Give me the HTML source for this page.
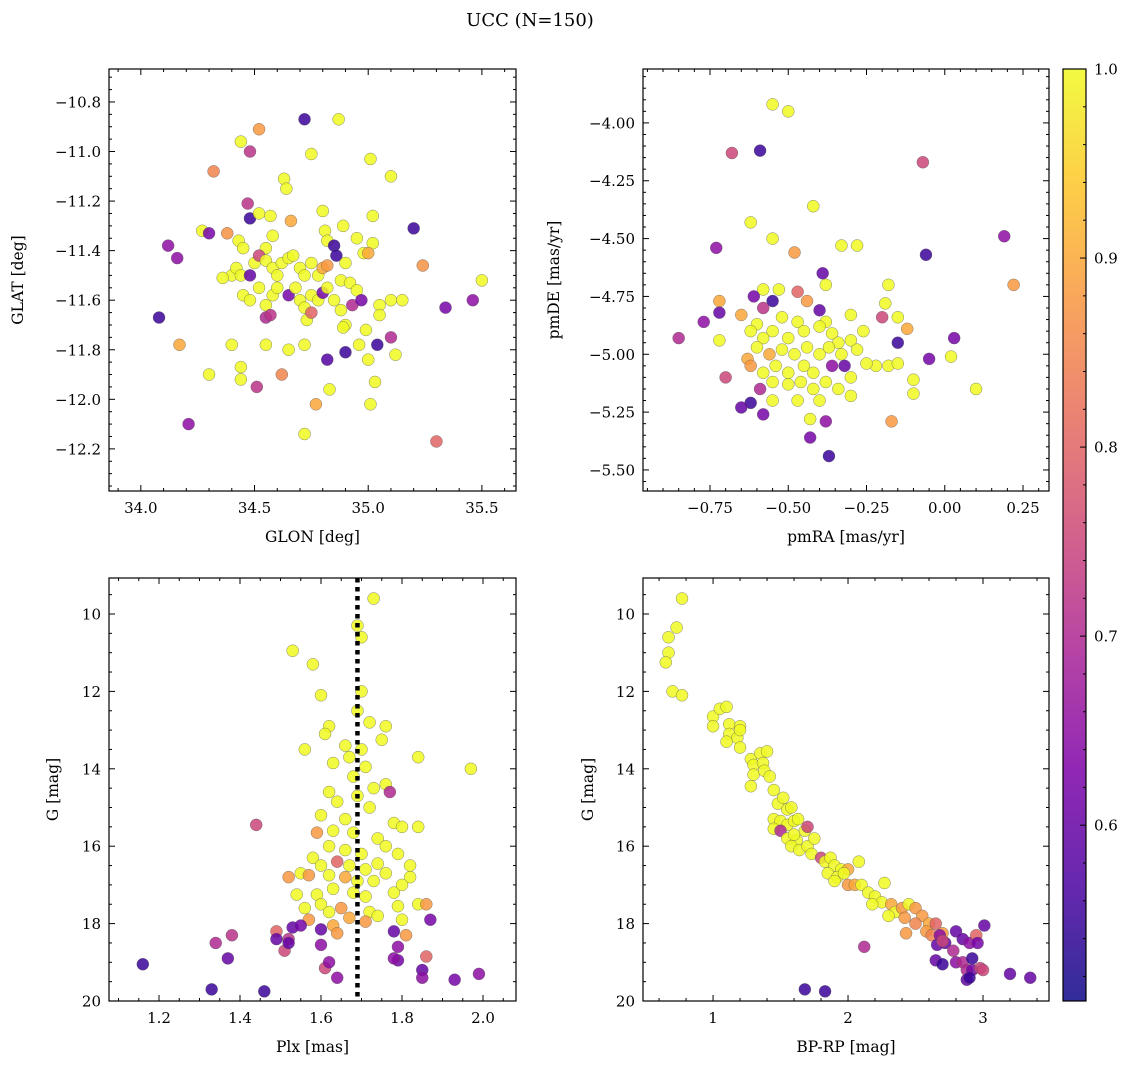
<!DOCTYPE html>
<html><head><meta charset="utf-8"><style>
html,body{margin:0;padding:0;background:#fff;}
svg{display:block;font-family:"DejaVu Serif","Liberation Serif",serif;}
</style></head><body>
<svg id="fig" width="1136" height="1068" viewBox="0 0 1136 1068" xmlns="http://www.w3.org/2000/svg">
<defs><linearGradient id="plasma" x1="0" y1="1" x2="0" y2="0">
<stop offset="0" stop-color="#0d0887"/><stop offset="0.125" stop-color="#4c02a1"/><stop offset="0.25" stop-color="#7e03a8"/><stop offset="0.375" stop-color="#a92395"/><stop offset="0.5" stop-color="#cc4778"/><stop offset="0.625" stop-color="#e66c5c"/><stop offset="0.75" stop-color="#f89540"/><stop offset="0.875" stop-color="#fdc527"/><stop offset="1" stop-color="#f0f921"/></linearGradient></defs>
<text x="530" y="26" font-size="18" text-anchor="middle">UCC (N=150)</text>
</svg>
<script>
const p1Lon=[34.44,34.48,34.52,34.72,34.87,34.32,34.75,35.01,35.1,34.63,34.64,34.47,34.48,34.52,34.57,34.66,34.27,34.30,34.38,34.12,34.16,34.43,34.45,34.58,34.55,34.80,34.81,34.82,34.85,34.89,34.95,35.02,35.02,35.2,35.24,34.08,34.17,34.21,34.3,34.4,34.36,34.42,34.44,34.48,34.5,34.52,34.55,34.58,34.6,34.62,34.65,34.67,34.7,34.72,34.75,34.78,34.8,34.82,34.86,34.9,34.88,34.92,34.95,34.98,35.0,34.45,34.48,34.52,34.55,34.58,34.6,34.65,34.68,34.7,34.72,34.75,34.78,34.8,34.82,34.85,34.88,34.9,34.93,34.97,35.05,35.1,35.15,35.05,34.55,34.57,34.73,34.75,34.89,34.99,35.1,35.12,35.34,35.46,35.5,34.4,34.55,34.65,34.72,34.82,34.9,34.96,35.0,35.04,34.44,34.44,34.62,34.51,34.77,34.83,35.03,35.01,34.72,35.3];
const p1Lat=[-10.96,-11.00,-10.91,-10.87,-10.87,-11.08,-11.01,-11.03,-11.1,-11.11,-11.15,-11.21,-11.27,-11.25,-11.26,-11.28,-11.32,-11.33,-11.33,-11.38,-11.43,-11.36,-11.39,-11.34,-11.39,-11.24,-11.32,-11.36,-11.38,-11.30,-11.35,-11.26,-11.37,-11.31,-11.46,-11.67,-11.78,-12.1,-11.9,-11.5,-11.51,-11.47,-11.5,-11.5,-11.45,-11.42,-11.44,-11.47,-11.5,-11.45,-11.43,-11.42,-11.47,-11.5,-11.45,-11.5,-11.47,-11.46,-11.42,-11.45,-11.52,-11.53,-11.56,-11.41,-11.41,-11.58,-11.6,-11.55,-11.62,-11.58,-11.55,-11.58,-11.55,-11.6,-11.63,-11.58,-11.6,-11.57,-11.55,-11.6,-11.64,-11.7,-11.62,-11.6,-11.62,-11.6,-11.6,-11.66,-11.67,-11.66,-11.68,-11.65,-11.71,-11.72,-11.75,-11.82,-11.63,-11.6,-11.52,-11.78,-11.78,-11.8,-11.78,-11.84,-11.81,-11.78,-11.84,-11.78,-11.87,-11.92,-11.9,-11.95,-12.02,-11.96,-11.93,-12.02,-12.14,-12.17];
const p1C=[1,0.72,0.88,0.55,1,0.85,1,1,1,1,1,0.72,0.55,1,1,0.9,1,0.62,0.87,0.65,0.65,1,1,1,1,1,1,1,0.55,1,1,1,1,0.55,0.87,0.55,0.9,0.65,1,1,1,1,1,0.6,1,0.75,1,1,1,1,1,1,1,1,1,1,0.9,0.88,0.55,1,1,1,1,1,0.9,1,1,1,1,1,1,0.62,1,1,1,1,1,0.62,1,1,1,1,0.7,0.62,1,1,1,1,0.7,0.72,1,0.8,1,1,0.7,1,0.62,0.65,1,1,1,1,1,0.58,0.55,1,1,0.55,1,1,0.85,0.72,0.9,1,1,1,1,0.8];
const p2RA=[-0.55,-0.5,-0.68,-0.59,-0.07,-0.42,-0.62,-0.73,-0.55,-0.33,-0.28,-0.48,-0.06,0.19,0.22,-0.39,-0.38,-0.18,-0.58,-0.53,-0.47,-0.61,-0.55,-0.44,-0.72,-0.19,-0.58,-0.4,-0.77,-0.72,-0.65,-0.6,-0.52,-0.47,-0.38,-0.3,-0.15,-0.2,-0.12,-0.85,-0.72,-0.62,-0.58,-0.55,-0.5,-0.45,-0.4,-0.36,-0.34,-0.3,-0.26,-0.15,0.03,-0.63,-0.6,-0.56,-0.52,-0.48,-0.44,-0.4,-0.37,-0.33,-0.28,-0.22,-0.18,-0.15,-0.05,0.02,-0.62,-0.58,-0.54,-0.5,-0.45,-0.42,-0.36,-0.32,-0.3,-0.25,-0.7,-0.59,-0.55,-0.5,-0.46,-0.42,-0.38,-0.34,-0.3,-0.1,-0.1,0.1,-0.55,-0.47,-0.4,-0.62,-0.65,-0.58,-0.43,-0.38,-0.17,-0.43,-0.37];
const p2DE=[-3.92,-3.95,-4.13,-4.12,-4.17,-4.36,-4.43,-4.54,-4.5,-4.53,-4.53,-4.56,-4.57,-4.49,-4.7,-4.65,-4.7,-4.7,-4.72,-4.72,-4.73,-4.75,-4.77,-4.77,-4.77,-4.78,-4.8,-4.81,-4.86,-4.82,-4.83,-4.87,-4.84,-4.86,-4.86,-4.83,-4.84,-4.84,-4.89,-4.93,-4.94,-4.9,-4.93,-4.9,-4.93,-4.9,-4.88,-4.91,-4.95,-4.94,-4.9,-4.95,-4.93,-5.02,-4.97,-5.0,-4.98,-5.0,-4.97,-5.0,-4.97,-5.0,-4.98,-5.05,-5.05,-5.04,-5.02,-5.01,-5.05,-5.08,-5.05,-5.08,-5.05,-5.08,-5.05,-5.05,-5.1,-5.04,-5.1,-5.15,-5.12,-5.13,-5.12,-5.15,-5.12,-5.15,-5.18,-5.11,-5.17,-5.15,-5.2,-5.2,-5.2,-5.21,-5.23,-5.26,-5.28,-5.29,-5.29,-5.36,-5.44];
const p2C=[1,1,0.75,0.55,0.75,1,1,0.65,1,1,1,0.88,0.55,0.65,0.88,0.6,1,1,1,1,0.8,0.62,0.55,0.88,0.9,1,0.72,0.6,0.65,0.6,0.9,1,1,1,1,1,1,0.75,0.9,0.7,1,1,1,1,1,1,1,1,1,1,1,0.55,0.62,0.9,1,0.9,1,1,1,1,1,1,1,1,1,1,0.62,1,0.88,1,1,1,1,1,0.65,0.6,1,1,0.75,0.7,1,1,1,1,1,1,1,1,1,1,1,1,1,0.55,0.6,0.62,1,0.65,0.88,0.62,0.55];
const p3Plx=[1.73,1.69,1.7,1.53,1.58,1.7,1.69,1.6,1.72,1.76,1.62,1.61,1.75,1.56,1.66,1.7,1.63,1.67,1.71,1.84,1.97,1.68,1.73,1.76,1.77,1.62,1.64,1.69,1.72,1.6,1.66,1.78,1.80,1.84,1.44,1.59,1.63,1.68,1.74,1.62,1.66,1.7,1.76,1.79,1.58,1.6,1.64,1.67,1.71,1.74,1.82,1.55,1.57,1.62,1.66,1.69,1.73,1.76,1.82,1.52,1.54,1.59,1.63,1.68,1.71,1.78,1.8,1.56,1.6,1.65,1.72,1.79,1.84,1.57,1.62,1.67,1.71,1.74,1.8,1.86,1.87,1.53,1.55,1.49,1.49,1.52,1.6,1.63,1.64,1.78,1.79,1.81,1.34,1.38,1.51,1.6,1.52,1.37,1.61,1.62,1.64,1.79,1.78,1.85,1.86,1.16,1.33,1.46,1.85,1.93,1.99];
const p3G=[9.6,10.3,10.6,10.95,11.3,12.0,12.5,12.1,12.8,12.9,12.9,13.1,13.25,13.5,13.4,13.5,13.85,13.7,13.95,13.7,14.0,14.2,14.5,14.4,14.6,14.6,14.85,14.7,15.0,15.2,15.3,15.4,15.5,15.5,15.45,15.65,15.6,15.65,15.8,16.0,16.1,16.2,16.0,16.2,16.3,16.5,16.4,16.5,16.6,16.45,16.5,16.7,16.75,16.75,16.8,16.9,16.9,16.7,16.8,16.8,17.25,17.25,17.1,17.2,17.3,17.2,17.0,17.6,17.5,17.6,17.7,17.55,17.5,17.9,17.7,17.85,17.95,17.8,17.9,17.5,17.9,18.1,18.05,18.2,18.4,18.4,18.15,18.05,18.25,18.2,18.6,18.3,18.5,18.3,18.7,18.55,18.5,18.9,19.15,19.0,19.4,18.95,18.9,19.2,18.85,19.05,19.7,19.75,19.4,19.45,19.3];
const p3C=[1,1,1,1,1,1,1,1,1,1,1,1,1,1,1,1,1,1,1,1,1,1,1,1,0.7,1,1,1,1,1,1,1,1,1,0.75,0.88,1,1,1,1,1,1,1,1,1,1,0.8,1,1,1,1,1,0.88,1,0.9,1,1,1,1,0.88,1,1,1,1,1,1,1,1,1,0.88,1,1,1,0.88,1,0.9,0.88,1,1,0.88,0.62,0.6,0.62,0.8,0.6,0.72,0.6,0.9,0.88,0.6,0.65,0.88,0.7,0.72,0.75,0.65,0.6,0.6,0.75,0.65,0.65,0.62,0.65,0.6,0.8,0.55,0.55,0.55,0.65,0.62,0.65];
const p4BR=[0.77,0.73,0.67,0.67,0.65,0.7,0.77,1.0,1.05,1.1,1.0,1.12,1.12,1.2,1.18,1.2,1.28,1.3,1.35,1.4,1.37,1.3,1.38,1.42,1.28,1.45,1.48,1.52,1.55,1.58,1.45,1.5,1.55,1.6,1.63,1.45,1.5,1.55,1.62,1.68,1.7,1.58,1.64,1.7,1.75,1.73,1.8,1.83,1.87,1.9,1.95,2.0,2.08,1.85,1.92,1.97,2.0,2.05,2.1,2.15,2.2,2.25,2.27,2.32,2.35,2.4,2.45,2.5,2.55,2.6,2.42,2.5,2.58,2.43,2.62,2.65,2.7,2.68,2.72,2.66,2.7,2.78,2.8,2.85,2.9,2.95,2.96,3.01,2.65,2.7,2.8,2.85,2.88,2.92,2.92,2.98,3.0,2.88,2.9,3.2,3.35,2.12,1.68,1.83,1.2,1.1,1.6,1.9,2.18,2.3];
const p4G=[9.6,10.35,10.6,11.0,11.25,12.0,12.1,12.65,12.45,12.4,12.9,12.85,13.1,12.9,13.2,13.45,13.75,13.9,13.6,13.55,13.85,14.15,14.05,14.2,14.45,14.55,14.9,14.75,15.05,15.0,15.3,15.35,15.45,15.35,15.3,15.55,15.6,15.8,15.85,15.6,15.5,16.0,16.1,16.0,15.8,16.2,16.3,16.4,16.3,16.5,16.6,16.6,16.4,16.7,16.8,16.7,17.0,17.0,17.0,17.2,17.3,17.45,16.95,17.5,17.7,17.6,17.5,17.6,17.8,18.0,17.85,18.0,18.2,18.25,18.3,18.0,18.25,18.3,18.5,18.55,18.45,18.7,18.2,18.4,18.5,18.3,18.5,18.05,18.95,19.05,19.0,19.0,19.2,18.9,19.2,19.15,19.2,19.45,19.4,19.3,19.4,18.6,19.7,19.75,13.0,13.3,15.7,16.9,17.5,17.8];
const p4C=[1,1,1,1,1,1,1,1,1,1,1,1,1,1,1,1,1,1,1,1,1,1,1,1,1,1,1,1,1,1,1,1,1,1,1,1,0.7,1,1,1,0.75,1,1,1,1,1,0.75,1,1,1,1,0.9,1,1,1,1,0.88,0.9,1,1,1,1,1,0.9,1,0.88,1,0.88,0.88,0.9,0.88,0.85,0.88,0.88,0.85,0.8,0.88,0.65,0.6,0.6,0.75,0.7,0.6,0.6,0.65,0.8,0.62,0.6,0.6,0.55,0.65,0.7,0.7,0.55,0.62,0.75,0.75,0.6,0.55,0.6,0.6,0.7,0.55,0.55,1,1,1,1,1,1];
const cbTicks=[0.6,0.7,0.8,0.9,1.0];
const plxLine=1.69;

const NS="http://www.w3.org/2000/svg";
const svg=document.getElementById('fig');
function mk(tag,attrs,parent){const e=document.createElementNS(NS,tag);for(const k in attrs)e.setAttribute(k,attrs[k]);(parent||svg).appendChild(e);return e;}
const stops=[[0,[13,8,135]],[0.125,[76,2,161]],[0.25,[126,3,168]],[0.375,[169,35,149]],[0.5,[204,71,120]],[0.625,[230,108,92]],[0.75,[248,149,64]],[0.875,[253,197,39]],[1,[240,249,33]]];
const VMIN=0.507,VMAX=1.0;
function cmap(v){let t=Math.max(0,Math.min(1,(v-VMIN)/(VMAX-VMIN)));for(let i=1;i<stops.length;i++){if(t<=stops[i][0]){const a=stops[i-1],b=stops[i],f=(t-a[0])/(b[0]-a[0]);const c=a[1].map((x,j)=>Math.round(x+(b[1][j]-x)*f));return `rgb(${c})`;}}return 'rgb(240,249,33)';}
function fmt(v,d){const s=Math.abs(v).toFixed(d);return (v<-1e-9?'\u2212':'')+s;}
function panel(o){
  const g=mk('g',{});
  
  
  const sx=v=>o.L+(v-o.x0)/(o.x1-o.x0)*(o.R-o.L);
  const sy=v=>o.inv? o.T+(v-o.y0)/(o.y1-o.y0)*(o.B-o.T) : o.B-(v-o.y0)/(o.y1-o.y0)*(o.B-o.T);
  for(let i=0;i<o.xs.length;i++){
    const c=mk('circle',{cx:sx(o.xs[i]),cy:sy(o.ys[i]),r:6,fill:cmap(o.cs[i]),'fill-opacity':0.85,stroke:'#555','stroke-width':0.5,'stroke-opacity':0.7},g);
    
    
  }
  if(o.vline!==undefined){const l=mk('line',{x1:sx(o.vline),x2:sx(o.vline),y1:o.T,y2:o.B,stroke:'#000','stroke-width':4.5,'stroke-dasharray':'4.5,4.5'},g);
    
    }
  const tk=(x1,y1,x2,y2)=>mk('line',{x1,y1,x2,y2,stroke:'#000','stroke-width':1},g);
  const xlo=Math.min(o.x0,o.x1),xhi=Math.max(o.x0,o.x1),ylo=Math.min(o.y0,o.y1),yhi=Math.max(o.y0,o.y1);
  for(let k=Math.ceil(xlo/o.xmin-1e-6);k*o.xmin<=xhi+1e-9;k++){const v=k*o.xmin,x=sx(v);const maj=Math.abs(v/o.xmaj-Math.round(v/o.xmaj))<1e-6;const L=maj?6:3;tk(x,o.B,x,o.B-L);tk(x,o.T,x,o.T+L);
    if(maj){const t=mk('text',{x:x,y:o.B+22,'font-size':15,'text-anchor':'middle'},g);t.textContent=fmt(v,o.xd);}}
  for(let k=Math.ceil(ylo/o.ymin-1e-6);k*o.ymin<=yhi+1e-9;k++){const v=k*o.ymin,y=sy(v);const maj=Math.abs(v/o.ymaj-Math.round(v/o.ymaj))<1e-6;const L=maj?6:3;tk(o.L,y,o.L+L,y);tk(o.R,y,o.R-L,y);
    if(maj){const t=mk('text',{x:o.L-8,y:y+5.5,'font-size':15,'text-anchor':'end'},g);t.textContent=fmt(v,o.yd);}}
  const fr=mk('rect',{x:o.L,y:o.T,width:o.R-o.L,height:o.B-o.T,fill:'none',stroke:'#000','stroke-width':1.2},g);
  
  const xl=mk('text',{x:(o.L+o.R)/2,y:o.B+51,'font-size':15.5,'text-anchor':'middle'},g);xl.textContent=o.xlab;
  
  const yl=mk('text',{x:0,y:0,'font-size':15.5,'text-anchor':'middle',transform:`translate(${o.ylx},${(o.T+o.B)/2}) rotate(-90)`},g);yl.textContent=o.ylab;
  
}
panel({name:'glon-glat-panel',L:109,R:516,T:69,B:491,x0:33.86,x1:35.65,y0:-12.37,y1:-10.667,xmaj:0.5,xmin:0.1,ymaj:0.2,ymin:0.05,xd:1,yd:1,xs:p1Lon,ys:p1Lat,cs:p1C,xlab:'GLON [deg]',ylab:'GLAT [deg]',ylx:23});
panel({name:'proper-motion-panel',L:643,R:1049,T:69,B:491,x0:-0.964,x1:0.333,y0:-5.591,y1:-3.767,xmaj:0.25,xmin:0.05,ymaj:0.25,ymin:0.05,xd:2,yd:2,xs:p2RA,ys:p2DE,cs:p2C,xlab:'pmRA [mas/yr]',ylab:'pmDE [mas/yr]',ylx:559});
panel({name:'parallax-g-panel',L:109,R:516,T:578,B:1001,x0:1.0765,x1:2.0815,y0:9.07,y1:20,inv:true,xmaj:0.2,xmin:0.05,ymaj:2,ymin:0.5,xd:1,yd:0,xs:p3Plx,ys:p3G,cs:p3C,vline:plxLine,xlab:'Plx [mas]',ylab:'G [mag]',ylx:58});
panel({name:'cmd-panel',L:643,R:1049,T:578,B:1001,x0:0.481,x1:3.489,y0:9.07,y1:20,inv:true,xmaj:1,xmin:0.2,ymaj:2,ymin:0.5,xd:0,yd:0,xs:p4BR,ys:p4G,cs:p4C,xlab:'BP-RP [mag]',ylab:'G [mag]',ylx:593});
const cb=mk('g',{});


const CT=69,CB=1001,CL=1063,CR=1086;
const cy=v=>CB-(v-VMIN)/(VMAX-VMIN)*(CB-CT);
mk('rect',{x:CL,y:CT,width:CR-CL,height:CB-CT,fill:'url(#plasma)','fill-opacity':0.85,stroke:'#000','stroke-width':1.2},cb);
for(let k=26;k<=50;k++){const v=k*0.02;if(v<VMIN)continue;const y=cy(v);const maj=cbTicks.some(t=>Math.abs(t-v)<1e-6);mk('line',{x1:CR,x2:CR-(maj?6:3),y1:y,y2:y,stroke:'#000','stroke-width':1},cb);}
cbTicks.forEach(v=>{const t=mk('text',{x:CR+8,y:cy(v)+5.5,'font-size':15},cb);t.textContent=v.toFixed(1);
  });
</script>
</body></html>
